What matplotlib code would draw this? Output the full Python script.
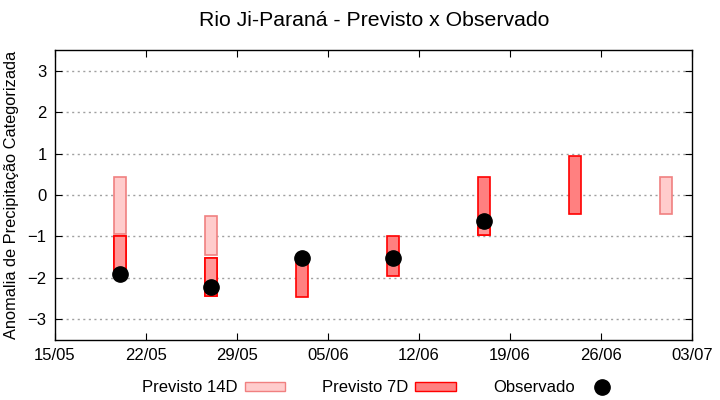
import matplotlib
matplotlib.use("Agg")
import matplotlib.pyplot as plt
import matplotlib.dates as mdates
import matplotlib.patches as mpatches
from matplotlib.lines import Line2D
from datetime import datetime

plt.rcParams["font.family"] = ["Liberation Sans", "DejaVu Sans"]

# semanas (centro de cada barra)
semanas = ["2023-05-20", "2023-05-27", "2023-06-03", "2023-06-10",
           "2023-06-17", "2023-06-24", "2023-07-01"]

# previsao 14 dias: (topo, base), None quando nao ha
prev_14d = [(0.44, -0.95), (-0.51, -1.45), None, None, None, None, (0.44, -0.45)]
# previsao 7 dias
prev_7d = [(-1.0, -1.9), (-1.52, -2.44), (-1.55, -2.45), (-1.0, -1.96),
           (0.43, -0.96), (0.95, -0.45), None]
# trecho em que as duas previsoes se sobrepoem
sobrep = [(-1.0, -1.9), (-1.52, -2.44), None, None, (-0.8, -0.96), None, None]
# observado
observado = [-1.91, -2.23, -1.52, -1.52, -0.63, None, None]

xticks = ["2023-05-15", "2023-05-22", "2023-05-29", "2023-06-05", "2023-06-12",
          "2023-06-19", "2023-06-26", "2023-07-03"]

datas = [datetime.strptime(d, "%Y-%m-%d") for d in semanas]
largura = 0.9

fig = plt.figure(figsize=(7.2, 4.0), dpi=100)
ax = fig.add_axes([55 / 720, 1 - 340 / 400, 637 / 720, 290 / 400])

for d, v in zip(datas, prev_14d):
    if v is None:
        continue
    x0 = mdates.date2num(d) - largura / 2
    ax.add_patch(mpatches.Rectangle((x0, v[1]), largura, v[0] - v[1],
                                    facecolor="#ffcccc", edgecolor="#f08080",
                                    linewidth=1.2, zorder=3))

for d, v in zip(datas, prev_7d):
    if v is None:
        continue
    x0 = mdates.date2num(d) - largura / 2
    ax.add_patch(mpatches.Rectangle((x0, v[1]), largura, v[0] - v[1],
                                    facecolor="#ff8080", edgecolor="red",
                                    linewidth=1.2, zorder=3))

for d, v in zip(datas, sobrep):
    if v is None:
        continue
    x0 = mdates.date2num(d) - largura / 2
    ax.add_patch(mpatches.Rectangle((x0, v[1]), largura, v[0] - v[1],
                                    facecolor="#ff9999", edgecolor="red",
                                    linewidth=1.2, zorder=4))

obs_x = [d for d, o in zip(datas, observado) if o is not None]
obs_y = [o for o in observado if o is not None]
ax.plot(obs_x, obs_y, "o", color="black", markersize=11, zorder=5)

ticks = [datetime.strptime(d, "%Y-%m-%d") for d in xticks]
ax.set_xlim(ticks[0], ticks[-1])
ax.set_xticks(ticks)
ax.xaxis.set_major_formatter(mdates.DateFormatter("%d/%m"))
ax.set_ylim(-3.5, 3.5)
ax.set_yticks(range(-3, 4))
ax.grid(True, axis="y", linestyle=(0, (1.5, 2.5)), color="#a0a0a0", linewidth=1)
ax.tick_params(direction="in", length=5, top=True, right=True, labelsize=12,
               pad=6)
for s in ax.spines.values():
    s.set_linewidth(1)

ax.set_ylabel("Anomalia de Precipitação Categorizada", fontsize=11.8, labelpad=6)
fig.text(0.52, 0.95, "Rio Ji-Paraná - Previsto x Observado", ha="center",
         va="center", fontsize=15.3)

handles = [
    mpatches.Patch(facecolor="#ffcccc", edgecolor="#f08080", label="Previsto 14D"),
    mpatches.Patch(facecolor="#ff8080", edgecolor="red", label="Previsto 7D"),
    Line2D([], [], marker="o", color="black", linestyle="none", markersize=11,
           label="Observado"),
]
fig.legend(handles=handles, loc="center", bbox_to_anchor=(0.531, 0.03), ncol=3,
           frameon=False, markerfirst=False, fontsize=12, handlelength=2.45,
           handleheight=0.45, columnspacing=2.2, handletextpad=0.42)

fig.savefig("out.png", dpi=100)
